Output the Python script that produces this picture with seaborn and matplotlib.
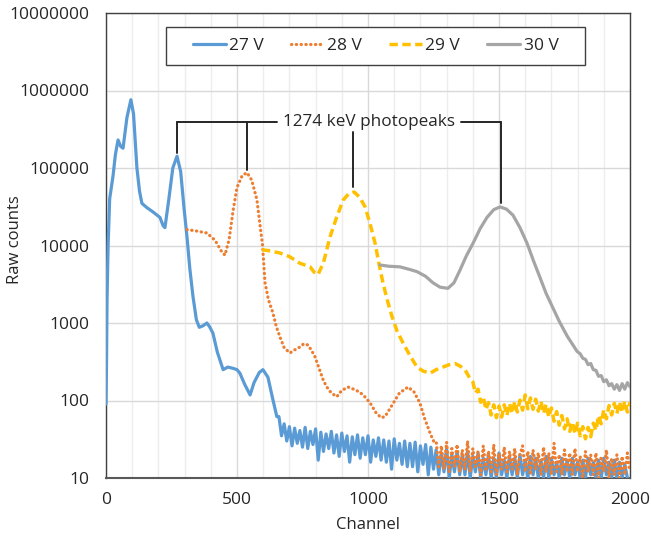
import numpy as np
import pandas as pd
import matplotlib
matplotlib.use("Agg")
import matplotlib.pyplot as plt
import seaborn as sns
from matplotlib.ticker import FixedLocator, NullLocator
from matplotlib.patches import Rectangle

# ---------------- data ----------------
series_names = ["27 V", "28 V", "29 V", "30 V"]
colors = ["#5B9BD5", "#ED7D31", "#FFC000", "#A5A5A5"]

# 27 V
ch27_smooth = [0, 2, 4, 8, 14, 27, 36, 46, 56, 65, 80, 95, 105, 118, 128, 137, 155, 180, 206, 218, 225,
               240, 255, 271, 285, 298, 310, 320, 332, 345, 356, 370, 385, 395, 408, 425, 447, 465,
               485, 500, 511, 530, 550, 565, 585, 599, 610, 618, 635, 652]
cnt27_smooth = [90, 300, 2000, 10000, 40000, 80000, 150000, 230000, 190000, 180000, 450000, 760000,
                500000, 100000, 50000, 35000, 31000, 27000, 23000, 18000, 17000, 40000, 100000,
                142000, 90000, 30000, 12000, 5000, 2200, 1100, 880, 920, 1000, 900, 740, 420, 250,
                270, 260, 250, 225, 160, 118, 170, 230, 250, 220, 200, 110, 62]
ch27_noise = list(range(660, 2000, 10))
cnt27_noise = [62, 35, 50, 30, 46, 26, 44, 28, 41, 25,
               45, 24, 40, 27, 43, 17, 39, 22, 37, 24,
               40, 21, 36, 19, 38, 22, 35, 16, 34, 20,
               36, 18, 33, 20, 35, 16, 31, 19, 33, 17,
               31, 16, 30, 13, 32, 17, 28, 15, 30, 14,
               28, 14, 29, 12, 26, 15, 27, 11, 25, 13,
               23, 11, 21, 12, 24, 10, 20, 12, 22, 11,
               20, 11, 22, 10, 19, 12, 21, 10, 18, 11,
               20, 10, 18, 10, 21, 11, 17, 10, 19, 11,
               18, 10, 20, 11, 17, 10, 19, 11, 18, 10,
               17, 10, 19, 10, 18, 11, 16, 10, 18, 11,
               17, 10, 18, 11, 16, 10, 17, 10, 18, 11,
               16, 10, 17, 10, 18, 11, 16, 10, 17, 10,
               16, 10, 15, 10]

# 28 V
ch28_smooth = [309, 340, 385, 416, 440, 454, 470, 485, 500, 520, 538, 556, 576, 590, 597, 607, 620,
               637, 650, 664, 680, 702, 720, 740, 755, 771, 785, 798, 815, 830, 843, 860, 881, 900,
               924, 945, 969, 990, 1008, 1030, 1050, 1065, 1090, 1120, 1153, 1175, 1198, 1215,
               1237, 1250]
cnt28_smooth = [16000, 15500, 14500, 11700, 8500, 7500, 12000, 28000, 56000, 80000, 87000, 70000,
                39000, 16000, 10500, 3300, 2000, 1350, 900, 660, 480, 410, 450, 490, 540, 520, 440,
                365, 250, 180, 149, 125, 112, 135, 149, 140, 128, 110, 93, 70, 60, 62, 85, 125,
                149, 130, 93, 60, 38, 30]
ch28_noise = list(range(1260, 2001, 10))
cnt28_noise = [30, 14, 26, 13, 29, 12, 24, 14, 27, 12,
               23, 13, 30, 12, 24, 14, 22, 11, 26, 13,
               22, 12, 27, 11, 21, 13, 25, 12, 22, 13,
               24, 11, 20, 26, 12, 22, 11, 23, 13, 21,
               11, 25, 12, 21, 11, 28, 12, 20, 11, 23,
               12, 21, 11, 24, 12, 19, 10, 22, 12, 20,
               11, 21, 10, 19, 12, 23, 10, 18, 11, 20,
               10, 19, 11, 21, 12]

# 29 V
ch29_smooth = [595, 620, 664, 700, 740, 779, 795, 809, 830, 855, 880, 905, 925, 947, 968, 989, 1008,
               1027, 1042, 1057, 1075, 1092, 1110, 1134, 1160, 1187, 1210, 1237, 1260, 1286, 1310,
               1332, 1350, 1370, 1390]
cnt29_smooth = [8800, 8600, 8000, 7200, 5900, 5300, 4500, 4200, 6000, 12900, 23000, 38500, 46000,
                49000, 42000, 31500, 19000, 10700, 5800, 3300, 1900, 1200, 800, 550, 380, 270, 240,
                225, 250, 270, 290, 300, 280, 250, 190]
ch29_noise = list(range(1400, 2001, 10))
cnt29_noise = [175, 125, 140, 95, 112, 76, 94, 65, 88, 60,
               85, 61, 88, 64, 92, 68, 97, 71, 101, 75,
               118, 78, 108, 77, 104, 73, 98, 68, 90, 61,
               80, 54, 72, 48, 64, 43, 58, 40, 53, 37,
               51, 35, 46, 32, 45, 34, 51, 41, 64, 50,
               76, 58, 86, 65, 92, 68, 96, 70, 98, 71, 95]

# 30 V
ch30 = [1046, 1080, 1122, 1160, 1187, 1220, 1248, 1275, 1305, 1328, 1351, 1375, 1401, 1428, 1454,
        1480, 1504, 1528, 1553, 1580, 1607, 1632, 1656, 1680, 1706, 1730, 1760, 1798,
        1810, 1820, 1830, 1840, 1850, 1860, 1870, 1880, 1890, 1900, 1910, 1920, 1930, 1940, 1950,
        1960, 1970, 1980, 1990, 2000]
cnt30 = [5600, 5400, 5300, 4900, 4600, 4000, 3300, 2900, 2800, 3300, 4800, 7300, 10700, 16500,
         23000, 29000, 31500, 29500, 24700, 17000, 10700, 6300, 3900, 2400, 1560, 1050, 680, 430,
         400, 350, 340, 290, 300, 250, 245, 205, 210, 175, 185, 155, 165, 140, 160, 135, 165, 140,
         170, 150]

y_ticks = [10, 100, 1000, 10000, 100000, 1000000, 10000000]
x_ticks = [0, 500, 1000, 1500, 2000]
annotation_text = "1274 keV photopeaks"

# ---------------- frame ----------------
def frame(name, ch, cnt):
    return pd.DataFrame({"Channel": ch, "Counts": cnt, "Series": name})

df = pd.concat([
    frame("27 V", ch27_smooth + ch27_noise, cnt27_smooth + cnt27_noise),
    frame("28 V", ch28_smooth + ch28_noise, cnt28_smooth + cnt28_noise),
    frame("29 V", ch29_smooth + ch29_noise, cnt29_smooth + cnt29_noise),
    frame("30 V", ch30, cnt30),
], ignore_index=True)

sns.set_style("white")
plt.rcParams["font.family"] = ["Open Sans", "DejaVu Sans"]

fig = plt.figure(figsize=(6.51, 5.42), dpi=100)
ax = fig.add_axes([106 / 651, 64 / 542, 524 / 651, 465 / 542])

styles = {
    "27 V": dict(linestyle="-", lw=2.3),
    "28 V": dict(linestyle=(0, (0.1, 1.4)), lw=2.3, dash_capstyle="round"),
    "29 V": dict(linestyle=(0, (2.4, 1.3)), lw=2.5),
    "30 V": dict(linestyle="-", lw=2.3),
}
for name, col in zip(series_names, colors):
    sub = df[df["Series"] == name]
    sns.lineplot(data=sub, x="Channel", y="Counts", ax=ax, color=col, label=name,
                 estimator=None, sort=False, zorder=3, **styles[name])

ax.set_yscale("log")
ax.set_xlim(0, 2000)
ax.set_ylim(10, 10000000)
ax.yaxis.set_major_locator(FixedLocator(y_ticks))
ax.yaxis.set_minor_locator(NullLocator())
ax.set_yticklabels([str(v) for v in y_ticks])
ax.xaxis.set_major_locator(FixedLocator(x_ticks))
ax.xaxis.set_minor_locator(FixedLocator([c for c in range(100, 2000, 100) if c % 500]))
ax.set_xticklabels([str(v) for v in x_ticks])

ax.grid(True, which="major", axis="both", color="#D9D9D9", lw=1.0, zorder=0)
ax.grid(True, which="minor", axis="x", color="#EDEDED", lw=1.0, zorder=0)
ax.set_axisbelow(True)

ax.tick_params(axis="y", which="both", length=0, labelsize=12.5, colors="#262626", pad=12)
ax.tick_params(axis="x", which="both", length=0, labelsize=12.5, colors="#262626", pad=10)
ax.set_xlabel("Channel", fontsize=12, color="#262626")
ax.set_ylabel("Raw counts", fontsize=12, color="#262626")
ax.yaxis.set_label_coords((23 - 106) / 524, (478 - 240) / 465)
ax.xaxis.set_label_coords(0.5, (478 - 517) / 465)
for s in ax.spines.values():
    s.set_color("#404040")
    s.set_linewidth(1.0)
ax.spines["bottom"].set_color("#595959")
ax.spines["bottom"].set_linewidth(1.5)

# legend (frame drawn as its own box, matching the reference's proportions)
leg = ax.legend(loc="center", bbox_to_anchor=(0.5143, 0.929), ncol=4, frameon=False,
                fontsize=12.5, handlelength=1.9, columnspacing=1.55, handletextpad=0.2)
for t in leg.get_texts():
    t.set_color("#262626")
box = Rectangle(((166 - 106) / 524, (478 - 65) / 465), (585 - 166) / 524, 38 / 465,
                transform=ax.transAxes, fill=True, facecolor="white", edgecolor="#404040",
                lw=1.0, zorder=6)
ax.add_patch(box)
leg.set_zorder(7)

# annotation leader lines
ytxt = 390000
lk = dict(color="#262626", lw=1.4, zorder=4)
ax.plot([271, 271], [155000, ytxt], **lk)
ax.plot([271, 653], [ytxt, ytxt], **lk)
ax.plot([538, 538], [95000, ytxt], **lk)
ax.plot([943, 943], [57000, 290000], **lk)
ax.plot([1355, 1508], [ytxt, ytxt], **lk)
ax.plot([1508, 1508], [35000, ytxt], **lk)
ax.text(1004, ytxt, annotation_text, ha="center", va="center", fontsize=12.3, color="#262626",
        zorder=5)

fig.savefig("out.png", dpi=100)
